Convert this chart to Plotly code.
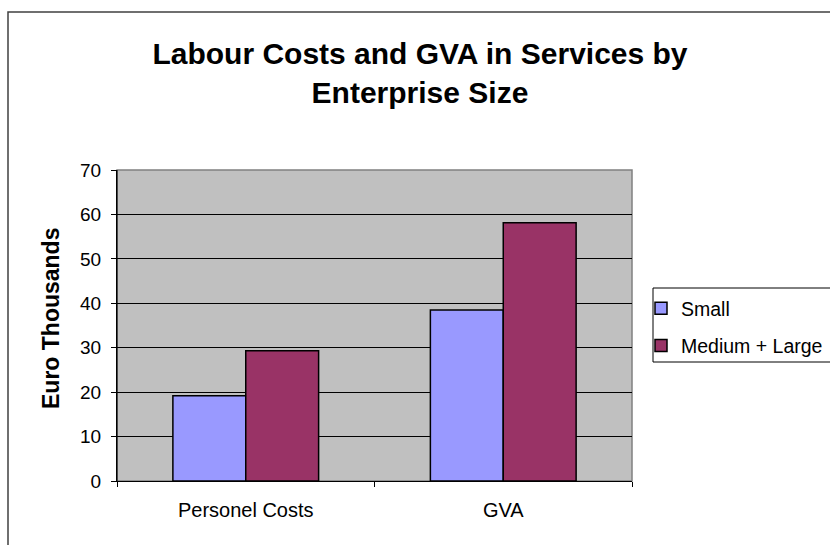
import plotly.graph_objects as go

categories = ["Personel Costs", "GVA"]
small = [19.2, 38.5]
medium_large = [29.3, 58.1]
series_names = ["Small", "Medium + Large"]
y_ticks = [0, 10, 20, 30, 40, 50, 60, 70]

FONT = "Arial, Liberation Sans, sans-serif"

# plot-area pixel frame (used only to convert layout positions to paper units)
L, R, T, B = 117, 632, 170, 481
PW, PH = R - L, B - T


def px(x):
    return (x - L) / PW


def py(y):
    return (B - y) / PH


fig = go.Figure()
fig.add_trace(go.Bar(x=categories, y=small, name=series_names[0], legendgroup="g1",
                     marker=dict(color="#9999FF", line=dict(color="black", width=1.5))))
fig.add_trace(go.Bar(x=categories, y=medium_large, name=series_names[1], legendgroup="g2",
                     marker=dict(color="#993366", line=dict(color="black", width=1.5))))

fig.update_layout(
    width=830, height=545,
    margin=dict(l=L, r=830 - R, t=T, b=545 - B, autoexpand=False),
    paper_bgcolor="white",
    plot_bgcolor="#C0C0C0",
    barmode="group",
    bargap=0.434,
    bargroupgap=0,
    font=dict(family=FONT, color="black", size=13),
    title=dict(text="<b>Labour Costs and GVA in Services by<br>Enterprise Size</b>",
               x=0.506, xref="container", xanchor="center",
               y=1 - 64 / 545, yref="container", yanchor="middle",
               font=dict(family=FONT, size=30, color="black")),
    legend=dict(x=px(641), xanchor="left", y=py(289), yanchor="top",
                borderwidth=0, bgcolor="rgba(0,0,0,0)",
                font=dict(family=FONT, size=19.5, color="black"),
                traceorder="grouped", tracegroupgap=9, itemwidth=30),
    xaxis=dict(showgrid=False, showline=True, linecolor="black", linewidth=1,
               ticks="outside", tickson="boundaries", ticklen=5, tickcolor="black",
               tickfont=dict(family=FONT, size=20), ticklabelstandoff=11),
    yaxis=dict(range=[0, 70], tickvals=y_ticks, showgrid=True, gridcolor="black",
               gridwidth=1, showline=True, linecolor="black", ticks="outside",
               ticklen=5, tickcolor="black", tickfont=dict(family=FONT, size=19),
               ticklabelstandoff=6, zeroline=False),
    annotations=[
        dict(text="<b>Euro Thousands</b>", xref="paper", yref="paper",
             x=px(51), y=py(319), xanchor="center", yanchor="middle",
             textangle=-90, showarrow=False, font=dict(family=FONT, size=23, color="black")),
    ],
    shapes=[
        dict(type="rect", xref="paper", yref="paper", x0=0, x1=1, y0=0, y1=1,
             line=dict(color="#808080", width=1.5), layer="below"),
        dict(type="line", xref="paper", yref="paper", x0=0, x1=0, y0=0, y1=1,
             line=dict(color="black", width=1)),
        # legend frame
        dict(type="rect", xref="paper", yref="paper",
             x0=px(653), x1=px(900), y0=py(362), y1=py(288),
             line=dict(color="black", width=1), fillcolor="rgba(0,0,0,0)"),
        # chart-area frame
        dict(type="rect", xref="paper", yref="paper",
             x0=px(8), x1=px(900), y0=py(600), y1=py(12),
             line=dict(color="#404040", width=1.5), fillcolor="rgba(0,0,0,0)"),
    ],
)

fig.write_html("out.html",
               config={"displayModeBar": False},
               post_script="document.body.style.margin='0';document.body.style.padding='0';")
